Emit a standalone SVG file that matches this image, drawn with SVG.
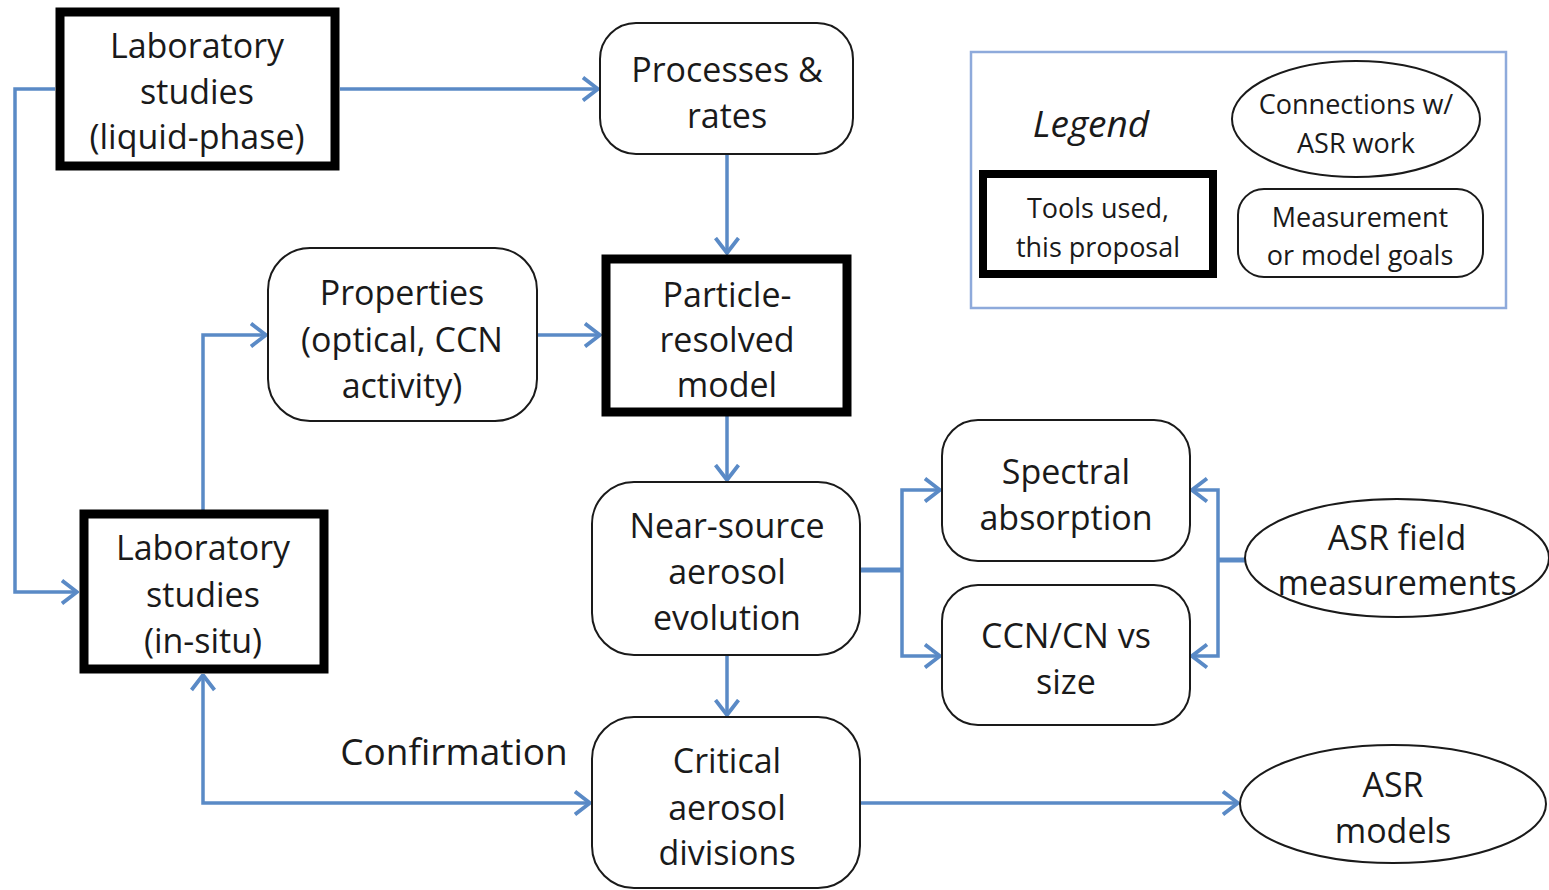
<svg xmlns="http://www.w3.org/2000/svg" width="1549" height="890" viewBox="0 0 1549 890">
<style>
  .t { font-family: "Open Sans", "Liberation Sans", sans-serif; font-size: 34px; fill: #1a1a1a; text-anchor: middle; }
  .s { font-family: "Open Sans", "Liberation Sans", sans-serif; font-size: 27px; fill: #1a1a1a; text-anchor: middle; }
  .thick { fill: #ffffff; stroke: #000000; stroke-width: 9; }
  .round { fill: #ffffff; stroke: #1a1a1a; stroke-width: 2; }
  .conn { fill: none; stroke: #5a8ac6; stroke-width: 3.5; }
</style>
<defs>
  <marker id="arr" markerUnits="userSpaceOnUse" viewBox="0 0 18 26" refX="16.5" refY="13" markerWidth="18" markerHeight="26" orient="auto-start-reverse">
    <path d="M1.5,1.5 L16.5,13 L1.5,24.5" fill="none" stroke="#5a8ac6" stroke-width="3.8"/>
  </marker>
</defs>
<rect width="1549" height="890" fill="#ffffff"/>

<g id="connectors">
  <path class="conn" d="M340,89 L598,89" marker-end="url(#arr)"/>
  <path class="conn" d="M55,89 L15,89 L15,592 L77,592" marker-end="url(#arr)"/>
  <path class="conn" d="M203,510 L203,335 L266,335" marker-end="url(#arr)"/>
  <path class="conn" d="M537,335 L600,335" marker-end="url(#arr)"/>
  <path class="conn" d="M727,154 L727,253" marker-end="url(#arr)"/>
  <path class="conn" d="M727,416 L727,480" marker-end="url(#arr)"/>
  <path class="conn" d="M860,570 L902,570" style="stroke-width:5"/>
  <path class="conn" d="M902,570 L902,490 L940,490" marker-end="url(#arr)"/>
  <path class="conn" d="M902,570 L902,656 L940,656" marker-end="url(#arr)"/>
  <path class="conn" d="M1245,560 L1218,560" style="stroke-width:5"/>
  <path class="conn" d="M1218,560 L1218,490 L1192,490" marker-end="url(#arr)"/>
  <path class="conn" d="M1218,560 L1218,656 L1192,656" marker-end="url(#arr)"/>
  <path class="conn" d="M727,655 L727,715" marker-end="url(#arr)"/>
  <path class="conn" d="M860,803 L1238,803" marker-end="url(#arr)"/>
  <path class="conn" d="M203,675 L203,803 L590,803" marker-start="url(#arr)" marker-end="url(#arr)"/>
</g>

<g id="lab-liquid">
  <rect class="thick" x="60" y="12" width="275" height="154"/>
  <text class="t" x="197" y="58">Laboratory</text>
  <text class="t" x="197" y="104">studies</text>
  <text class="t" x="197" y="149">(liquid-phase)</text>
</g>

<g id="processes">
  <rect class="round" x="600" y="23" width="253" height="131" rx="36"/>
  <text class="t" x="727" y="82">Processes &amp;</text>
  <text class="t" x="727" y="128">rates</text>
</g>

<g id="properties">
  <rect class="round" x="268" y="248" width="269" height="173" rx="42"/>
  <text class="t" x="402" y="305">Properties</text>
  <text class="t" x="402" y="352">(optical, CCN</text>
  <text class="t" x="402" y="398">activity)</text>
</g>

<g id="particle">
  <rect class="thick" x="606" y="259" width="241" height="153"/>
  <text class="t" x="727" y="307">Particle-</text>
  <text class="t" x="727" y="352">resolved</text>
  <text class="t" x="727" y="397">model</text>
</g>

<g id="near-source">
  <rect class="round" x="592" y="482" width="268" height="173" rx="42"/>
  <text class="t" x="727" y="538">Near-source</text>
  <text class="t" x="727" y="584">aerosol</text>
  <text class="t" x="727" y="630">evolution</text>
</g>

<g id="spectral">
  <rect class="round" x="942" y="420" width="248" height="141" rx="36"/>
  <text class="t" x="1066" y="484">Spectral</text>
  <text class="t" x="1066" y="530">absorption</text>
</g>

<g id="ccn">
  <rect class="round" x="942" y="585" width="248" height="140" rx="36"/>
  <text class="t" x="1066" y="648">CCN/CN vs</text>
  <text class="t" x="1066" y="694">size</text>
</g>

<g id="asr-field">
  <ellipse class="round" cx="1397" cy="558" rx="152" ry="59"/>
  <text class="t" x="1397" y="550">ASR field</text>
  <text class="t" x="1397" y="595">measurements</text>
</g>

<g id="critical">
  <rect class="round" x="592" y="717" width="268" height="171" rx="42"/>
  <text class="t" x="727" y="773">Critical</text>
  <text class="t" x="727" y="820">aerosol</text>
  <text class="t" x="727" y="865">divisions</text>
</g>

<g id="asr-models">
  <ellipse class="round" cx="1393" cy="804" rx="153" ry="59"/>
  <text class="t" x="1393" y="797">ASR</text>
  <text class="t" x="1393" y="843">models</text>
</g>

<g id="lab-insitu">
  <rect class="thick" x="84" y="514" width="240" height="155"/>
  <text class="t" x="203" y="560">Laboratory</text>
  <text class="t" x="203" y="607">studies</text>
  <text class="t" x="203" y="653">(in-situ)</text>
</g>

<g id="confirmation">
  <text class="t" x="454" y="765" style="font-size:37px">Confirmation</text>
</g>

<g id="legend">
  <rect x="971" y="52" width="535" height="256" fill="#ffffff" stroke="#8eaadb" stroke-width="2.5"/>
  <text class="t" x="1091" y="137" style="font-size:37px;font-style:italic">Legend</text>
  <ellipse class="round" cx="1356" cy="119" rx="124" ry="58"/>
  <text class="s" x="1356" y="114">Connections w/</text>
  <text class="s" x="1356" y="153">ASR work</text>
  <rect class="thick" x="983" y="174" width="230" height="100" style="stroke-width:8"/>
  <text class="s" x="1098" y="218">Tools used,</text>
  <text class="s" x="1098" y="257">this proposal</text>
  <rect class="round" x="1238" y="189" width="245" height="88" rx="26"/>
  <text class="s" x="1360" y="227">Measurement</text>
  <text class="s" x="1360" y="265">or model goals</text>
</g>
</svg>
